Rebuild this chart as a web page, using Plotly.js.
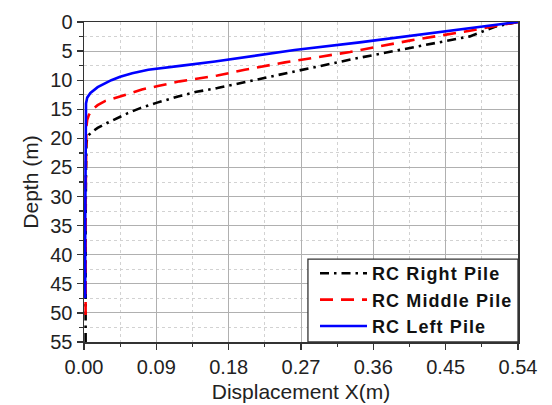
<!DOCTYPE html>
<html>
<head>
<meta charset="utf-8">
<script src="https://cdn.plot.ly/plotly-3.0.1.min.js"></script>
<style>
  html, body { margin: 0; padding: 0; background: #fff; }
  #chart { width: 552px; height: 405px; }
  .legendtext { letter-spacing: 1.1px; }
</style>
</head>
<body>
<div id="chart"></div>
<script>
// Lateral displacement profiles of the three RC piles
const seriesNames = ['RC Right Pile', 'RC Middle Pile', 'RC Left Pile'];

const rightDepth = [0, 0.75, 2.47, 4.47, 6.3, 8.5, 10.0, 11.35, 12.0, 12.8, 13.9, 14.8, 15.7, 16.5, 17.4, 18.2, 19.0, 19.7, 21, 25, 30, 35, 40, 45, 50, 55];
const rightDisp  = [0.54, 0.513, 0.48, 0.405, 0.337, 0.262, 0.212, 0.166, 0.14, 0.117, 0.09, 0.07, 0.054, 0.041, 0.028, 0.017, 0.009, 0.004, 0.003, 0.0025, 0.002, 0.002, 0.002, 0.002, 0.002, 0.002];

const middleDepth = [0, 1.5, 3.2, 5.15, 6.94, 8.2, 9.2, 10.2, 11.0, 11.6, 12.5, 13.1, 13.6, 14.3, 15.1, 16.0, 16.8, 18, 20, 25, 30, 35, 40, 45, 48, 51.5];
const middleDisp  = [0.54, 0.48, 0.405, 0.331, 0.25, 0.20, 0.166, 0.119, 0.092, 0.072, 0.052, 0.037, 0.026, 0.017, 0.010, 0.006, 0.004, 0.003, 0.003, 0.0025, 0.002, 0.002, 0.002, 0.002, 0.002, 0.002];

const leftDepth = [0, 1.6, 3.5, 4.8, 6.0, 6.8, 7.5, 8.2, 8.8, 9.4, 10.0, 10.6, 11.2, 12.2, 13.0, 14, 20, 25, 30, 35, 40, 45, 47.5];
const leftDisp  = [0.54, 0.45, 0.343, 0.262, 0.205, 0.163, 0.122, 0.08, 0.06, 0.045, 0.034, 0.025, 0.017, 0.008, 0.004, 0.0025, 0.002, 0.0018, 0.0015, 0.0015, 0.0015, 0.0015, 0.0015];

const xTicks = [0, 0.09, 0.18, 0.27, 0.36, 0.45, 0.54];
const yTicks = [0, 5, 10, 15, 20, 25, 30, 35, 40, 45, 50, 55];

const traces = [
  { x: rightDisp, y: rightDepth, name: seriesNames[0], mode: 'lines',
    line: { color: '#000000', width: 2.6, dash: '9px,5px,2.5px,5px' } },
  { x: middleDisp, y: middleDepth, name: seriesNames[1], mode: 'lines',
    line: { color: '#ff0000', width: 2.6, dash: '13px,8px' } },
  { x: leftDisp, y: leftDepth, name: seriesNames[2], mode: 'lines',
    line: { color: '#0000ff', width: 2.6 } }
];

const fontFamily = 'Liberation Sans, Arial, sans-serif';
const tickFont = { family: fontFamily, size: 20, color: '#222' };
const titleFont = { family: fontFamily, size: 21, color: '#222' };

const layout = {
  width: 552, height: 405,
  margin: { l: 84, r: 34, t: 22, b: 63 },
  paper_bgcolor: '#fff', plot_bgcolor: '#fff',
  showlegend: true,
  // framed white panel behind the legend entries
  shapes: [{
    type: 'rect', xref: 'paper', yref: 'paper', layer: 'above',
    x0: 0.516, x1: 1, y0: 0, y1: 0.259,
    fillcolor: '#ffffff', line: { color: '#333', width: 1.3 }
  }],
  legend: {
    x: 1, y: -0.0094, xanchor: 'right', yanchor: 'bottom',
    bgcolor: 'rgba(0,0,0,0)', borderwidth: 0,
    font: { family: fontFamily, size: 18, color: '#111', weight: 'bold' },
    itemwidth: 47, tracegroupgap: 0,
    traceorder: 'normal'
  },
  xaxis: {
    range: [0, 0.54], tickvals: xTicks, ticktext: xTicks.map(v => v.toFixed(2)),
    ticks: 'outside', ticklen: 6, tickwidth: 1.3, tickcolor: '#333',
    showline: true, linecolor: '#333', linewidth: 1.5, mirror: true,
    showgrid: true, gridcolor: '#b0b0b0', gridwidth: 1,
    zeroline: false,
    minor: { dtick: 0.045, ticks: 'outside', ticklen: 3.5, tickcolor: '#333', tickwidth: 1.2,
             showgrid: true, gridcolor: '#d2d2d2', griddash: 'dot', gridwidth: 1 },
    tickfont: tickFont,
    title: { text: 'Displacement X(m)', font: titleFont, standoff: 8 }
  },
  yaxis: {
    range: [55, 0], tickvals: yTicks,
    ticks: 'outside', ticklen: 6, tickwidth: 1.3, tickcolor: '#333',
    showline: true, linecolor: '#333', linewidth: 1.5, mirror: true,
    showgrid: true, gridcolor: '#b0b0b0', gridwidth: 1,
    zeroline: false,
    minor: { dtick: 2.5, ticks: 'outside', ticklen: 3.5, tickcolor: '#333', tickwidth: 1.2,
             showgrid: true, gridcolor: '#d2d2d2', griddash: 'dot', gridwidth: 1 },
    tickfont: tickFont,
    title: { text: 'Depth (m)', font: titleFont, standoff: 6 }
  }
};

Plotly.newPlot('chart', traces, layout, { displayModeBar: false, staticPlot: true });
</script>
</body>
</html>
